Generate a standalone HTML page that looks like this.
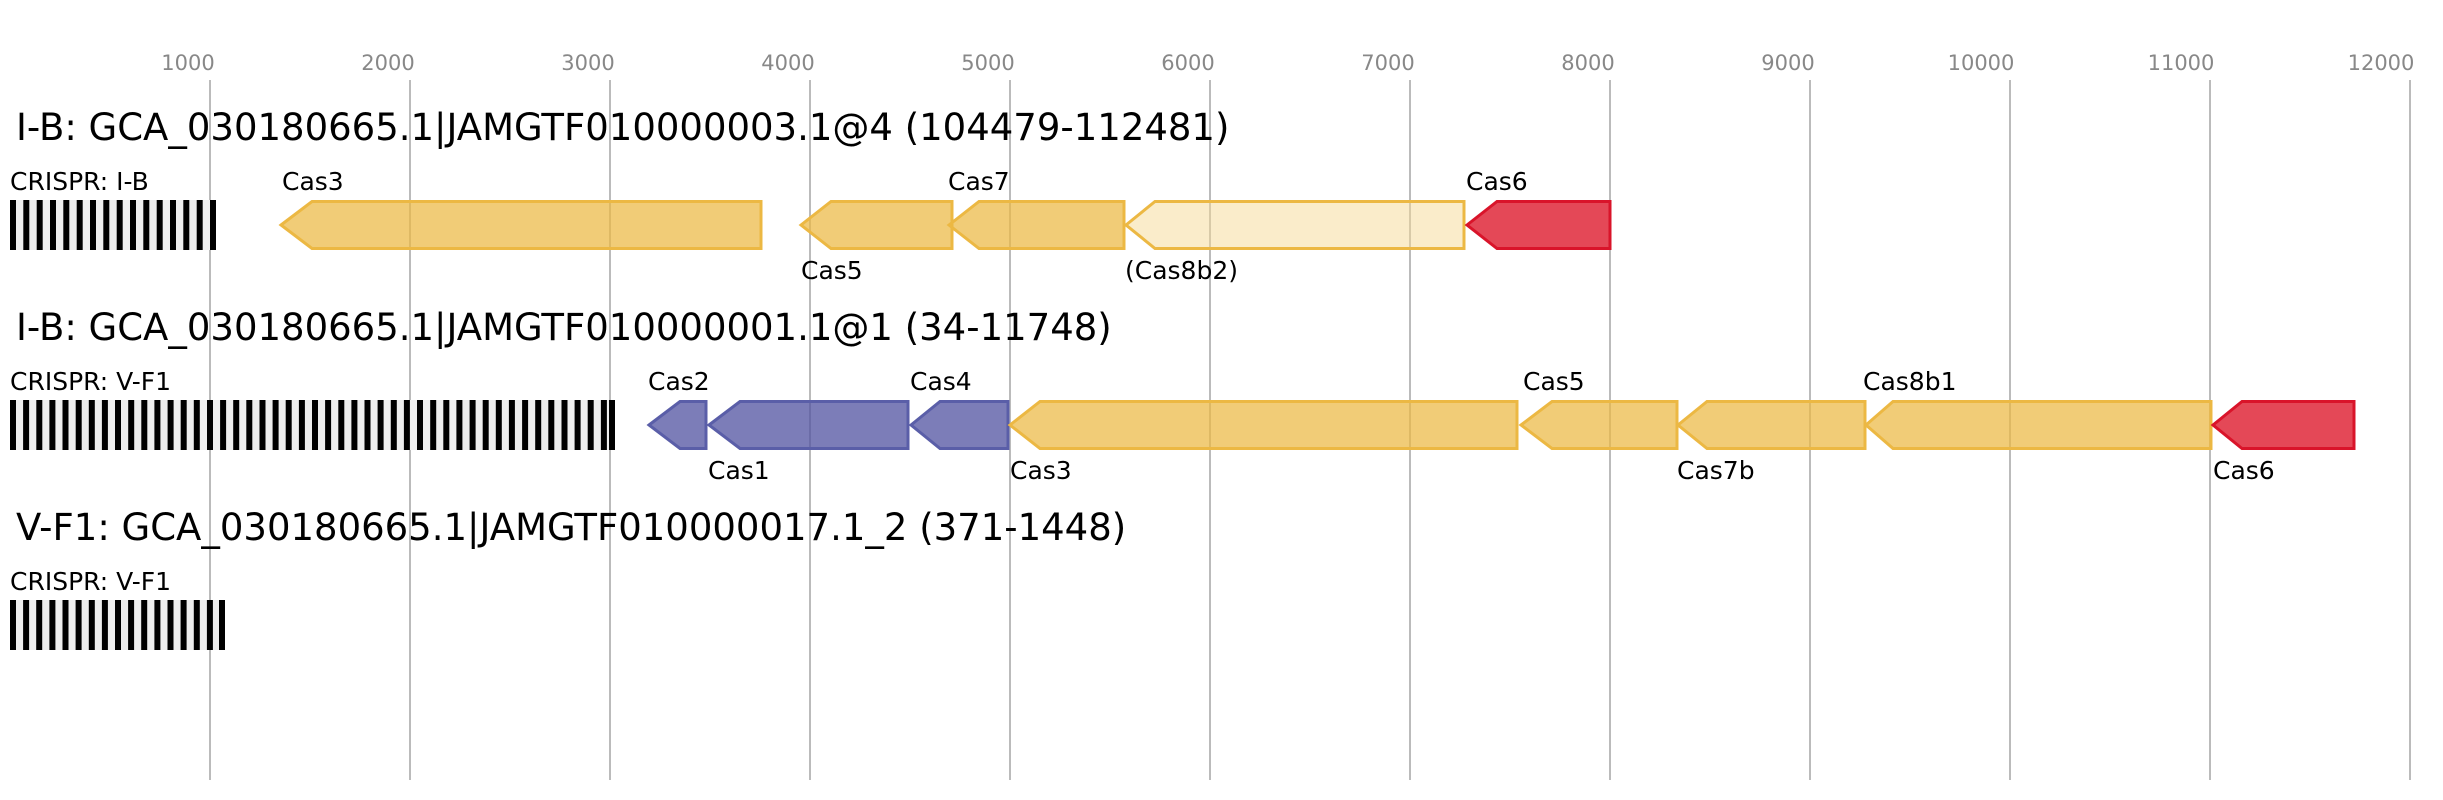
<!DOCTYPE html>
<html><head><meta charset="utf-8"><style>html,body{margin:0;padding:0;background:#fff}svg{display:block}</style></head>
<body>
<svg width="2443" height="800" xmlns="http://www.w3.org/2000/svg" font-family="'DejaVu Sans', 'Liberation Sans', sans-serif">
<rect width="2443" height="800" fill="#fff"/>
<g stroke="#bbb" stroke-width="2">
<line x1="210" y1="80" x2="210" y2="780"/><line x1="410" y1="80" x2="410" y2="780"/><line x1="610" y1="80" x2="610" y2="780"/><line x1="810" y1="80" x2="810" y2="780"/><line x1="1010" y1="80" x2="1010" y2="780"/><line x1="1210" y1="80" x2="1210" y2="780"/><line x1="1410" y1="80" x2="1410" y2="780"/><line x1="1610" y1="80" x2="1610" y2="780"/><line x1="1810" y1="80" x2="1810" y2="780"/><line x1="2010" y1="80" x2="2010" y2="780"/><line x1="2210" y1="80" x2="2210" y2="780"/><line x1="2410" y1="80" x2="2410" y2="780"/>
</g>
<g fill="#888" font-size="21" text-anchor="middle">
<text x="188" y="70">1000</text><text x="388" y="70">2000</text><text x="588" y="70">3000</text><text x="788" y="70">4000</text><text x="988" y="70">5000</text><text x="1188" y="70">6000</text><text x="1388" y="70">7000</text><text x="1588" y="70">8000</text><text x="1788" y="70">9000</text><text x="1981" y="70">10000</text><text x="2181" y="70">11000</text><text x="2381" y="70">12000</text>
</g>
<g font-size="37" fill="#000">
<text x="16" y="140">I-B: GCA_030180665.1|JAMGTF010000003.1@4 (104479-112481)</text>
<text x="16" y="340">I-B: GCA_030180665.1|JAMGTF010000001.1@1 (34-11748)</text>
<text x="16" y="540">V-F1: GCA_030180665.1|JAMGTF010000017.1_2 (371-1448)</text>
</g>
<g font-size="25" fill="#000">
<text x="10" y="190">CRISPR: I-B</text>
<text x="10" y="390">CRISPR: V-F1</text>
<text x="10" y="590">CRISPR: V-F1</text>
</g>
<rect x="10" y="200" width="206" height="50" fill="#eee"/>
<rect x="10" y="400" width="605" height="50" fill="#eee"/>
<rect x="10" y="600" width="215" height="50" fill="#eee"/>
<g fill="#000" id="bars"></g>
<g fill="#000">
<!-- row1 16 bars -->
<rect x="10" y="200" width="6" height="50"/><rect x="23.3" y="200" width="6" height="50"/><rect x="36.7" y="200" width="6" height="50"/><rect x="50" y="200" width="6" height="50"/><rect x="63.3" y="200" width="6" height="50"/><rect x="76.7" y="200" width="6" height="50"/><rect x="90" y="200" width="6" height="50"/><rect x="103.3" y="200" width="6" height="50"/><rect x="116.7" y="200" width="6" height="50"/><rect x="130" y="200" width="6" height="50"/><rect x="143.3" y="200" width="6" height="50"/><rect x="156.7" y="200" width="6" height="50"/><rect x="170" y="200" width="6" height="50"/><rect x="183.3" y="200" width="6" height="50"/><rect x="196.7" y="200" width="6" height="50"/><rect x="210" y="200" width="6" height="50"/>
<!-- row3 17 bars -->
<rect x="10" y="600" width="6" height="50"/><rect x="23.1" y="600" width="6" height="50"/><rect x="36.2" y="600" width="6" height="50"/><rect x="49.4" y="600" width="6" height="50"/><rect x="62.5" y="600" width="6" height="50"/><rect x="75.6" y="600" width="6" height="50"/><rect x="88.8" y="600" width="6" height="50"/><rect x="101.9" y="600" width="6" height="50"/><rect x="115" y="600" width="6" height="50"/><rect x="128.1" y="600" width="6" height="50"/><rect x="141.2" y="600" width="6" height="50"/><rect x="154.4" y="600" width="6" height="50"/><rect x="167.5" y="600" width="6" height="50"/><rect x="180.6" y="600" width="6" height="50"/><rect x="193.8" y="600" width="6" height="50"/><rect x="206.9" y="600" width="6" height="50"/><rect x="219" y="600" width="6" height="50"/>
<!-- row2 47 bars -->
<rect x="10" y="400" width="6" height="50"/><rect x="23.1" y="400" width="6" height="50"/><rect x="36.3" y="400" width="6" height="50"/><rect x="49.4" y="400" width="6" height="50"/><rect x="62.5" y="400" width="6" height="50"/><rect x="75.7" y="400" width="6" height="50"/><rect x="88.8" y="400" width="6" height="50"/><rect x="101.9" y="400" width="6" height="50"/><rect x="115" y="400" width="6" height="50"/><rect x="128.2" y="400" width="6" height="50"/><rect x="141.3" y="400" width="6" height="50"/><rect x="154.4" y="400" width="6" height="50"/><rect x="167.6" y="400" width="6" height="50"/><rect x="180.7" y="400" width="6" height="50"/><rect x="193.8" y="400" width="6" height="50"/><rect x="207" y="400" width="6" height="50"/><rect x="220.1" y="400" width="6" height="50"/><rect x="233.2" y="400" width="6" height="50"/><rect x="246.3" y="400" width="6" height="50"/><rect x="259.5" y="400" width="6" height="50"/><rect x="272.6" y="400" width="6" height="50"/><rect x="285.7" y="400" width="6" height="50"/><rect x="298.9" y="400" width="6" height="50"/><rect x="312" y="400" width="6" height="50"/><rect x="325.1" y="400" width="6" height="50"/><rect x="338.3" y="400" width="6" height="50"/><rect x="351.4" y="400" width="6" height="50"/><rect x="364.5" y="400" width="6" height="50"/><rect x="377.6" y="400" width="6" height="50"/><rect x="390.8" y="400" width="6" height="50"/><rect x="403.9" y="400" width="6" height="50"/><rect x="417" y="400" width="6" height="50"/><rect x="430.2" y="400" width="6" height="50"/><rect x="443.3" y="400" width="6" height="50"/><rect x="456.4" y="400" width="6" height="50"/><rect x="469.6" y="400" width="6" height="50"/><rect x="482.7" y="400" width="6" height="50"/><rect x="495.8" y="400" width="6" height="50"/><rect x="508.9" y="400" width="6" height="50"/><rect x="522.1" y="400" width="6" height="50"/><rect x="535.2" y="400" width="6" height="50"/><rect x="548.3" y="400" width="6" height="50"/><rect x="561.5" y="400" width="6" height="50"/><rect x="574.6" y="400" width="6" height="50"/><rect x="587.7" y="400" width="6" height="50"/><rect x="600.9" y="400" width="6" height="50"/><rect x="609" y="400" width="6" height="50"/>
</g>
<g stroke-width="3" stroke-linejoin="miter">
<!-- row 1 -->
<polygon points="281,225 312,201.5 761,201.5 761,248.5 312,248.5" fill="rgba(236,184,67,0.72)" stroke="#ecb843"/>
<polygon points="801,225 831,201.5 952,201.5 952,248.5 831,248.5" fill="rgba(236,184,67,0.72)" stroke="#ecb843"/>
<polygon points="949,225 979,201.5 1124,201.5 1124,248.5 979,248.5" fill="rgba(236,184,67,0.72)" stroke="#ecb843"/>
<polygon points="1126,225 1155,201.5 1464,201.5 1464,248.5 1155,248.5" fill="rgba(245,217,150,0.5)" stroke="#ecb843"/>
<polygon points="1467,225 1497,201.5 1610,201.5 1610,248.5 1497,248.5" fill="rgba(221,21,40,0.78)" stroke="#d9142a"/>
<!-- row 2 -->
<polygon points="649,425 680,401.5 706,401.5 706,448.5 680,448.5" fill="rgba(80,82,160,0.75)" stroke="#5a5ea8"/>
<polygon points="709,425 740,401.5 908,401.5 908,448.5 740,448.5" fill="rgba(80,82,160,0.75)" stroke="#5a5ea8"/>
<polygon points="911,425 940,401.5 1008,401.5 1008,448.5 940,448.5" fill="rgba(80,82,160,0.75)" stroke="#5a5ea8"/>
<polygon points="1010,425 1040,401.5 1517,401.5 1517,448.5 1040,448.5" fill="rgba(236,184,67,0.72)" stroke="#ecb843"/>
<polygon points="1521,425 1552,401.5 1677,401.5 1677,448.5 1552,448.5" fill="rgba(236,184,67,0.72)" stroke="#ecb843"/>
<polygon points="1678,425 1707,401.5 1865,401.5 1865,448.5 1707,448.5" fill="rgba(236,184,67,0.72)" stroke="#ecb843"/>
<polygon points="1866,425 1893,401.5 2211,401.5 2211,448.5 1893,448.5" fill="rgba(236,184,67,0.72)" stroke="#ecb843"/>
<polygon points="2213,425 2242,401.5 2354,401.5 2354,448.5 2242,448.5" fill="rgba(221,21,40,0.78)" stroke="#d9142a"/>
</g>
<g font-size="25" fill="#000">
<text x="282" y="190">Cas3</text>
<text x="801" y="279">Cas5</text>
<text x="948" y="190">Cas7</text>
<text x="1125" y="279">(Cas8b2)</text>
<text x="1466" y="190">Cas6</text>
<text x="648" y="390">Cas2</text>
<text x="708" y="479">Cas1</text>
<text x="910" y="390">Cas4</text>
<text x="1010" y="479">Cas3</text>
<text x="1523" y="390">Cas5</text>
<text x="1677" y="479">Cas7b</text>
<text x="1863" y="390">Cas8b1</text>
<text x="2213" y="479">Cas6</text>
</g>
</svg>
</body></html>
